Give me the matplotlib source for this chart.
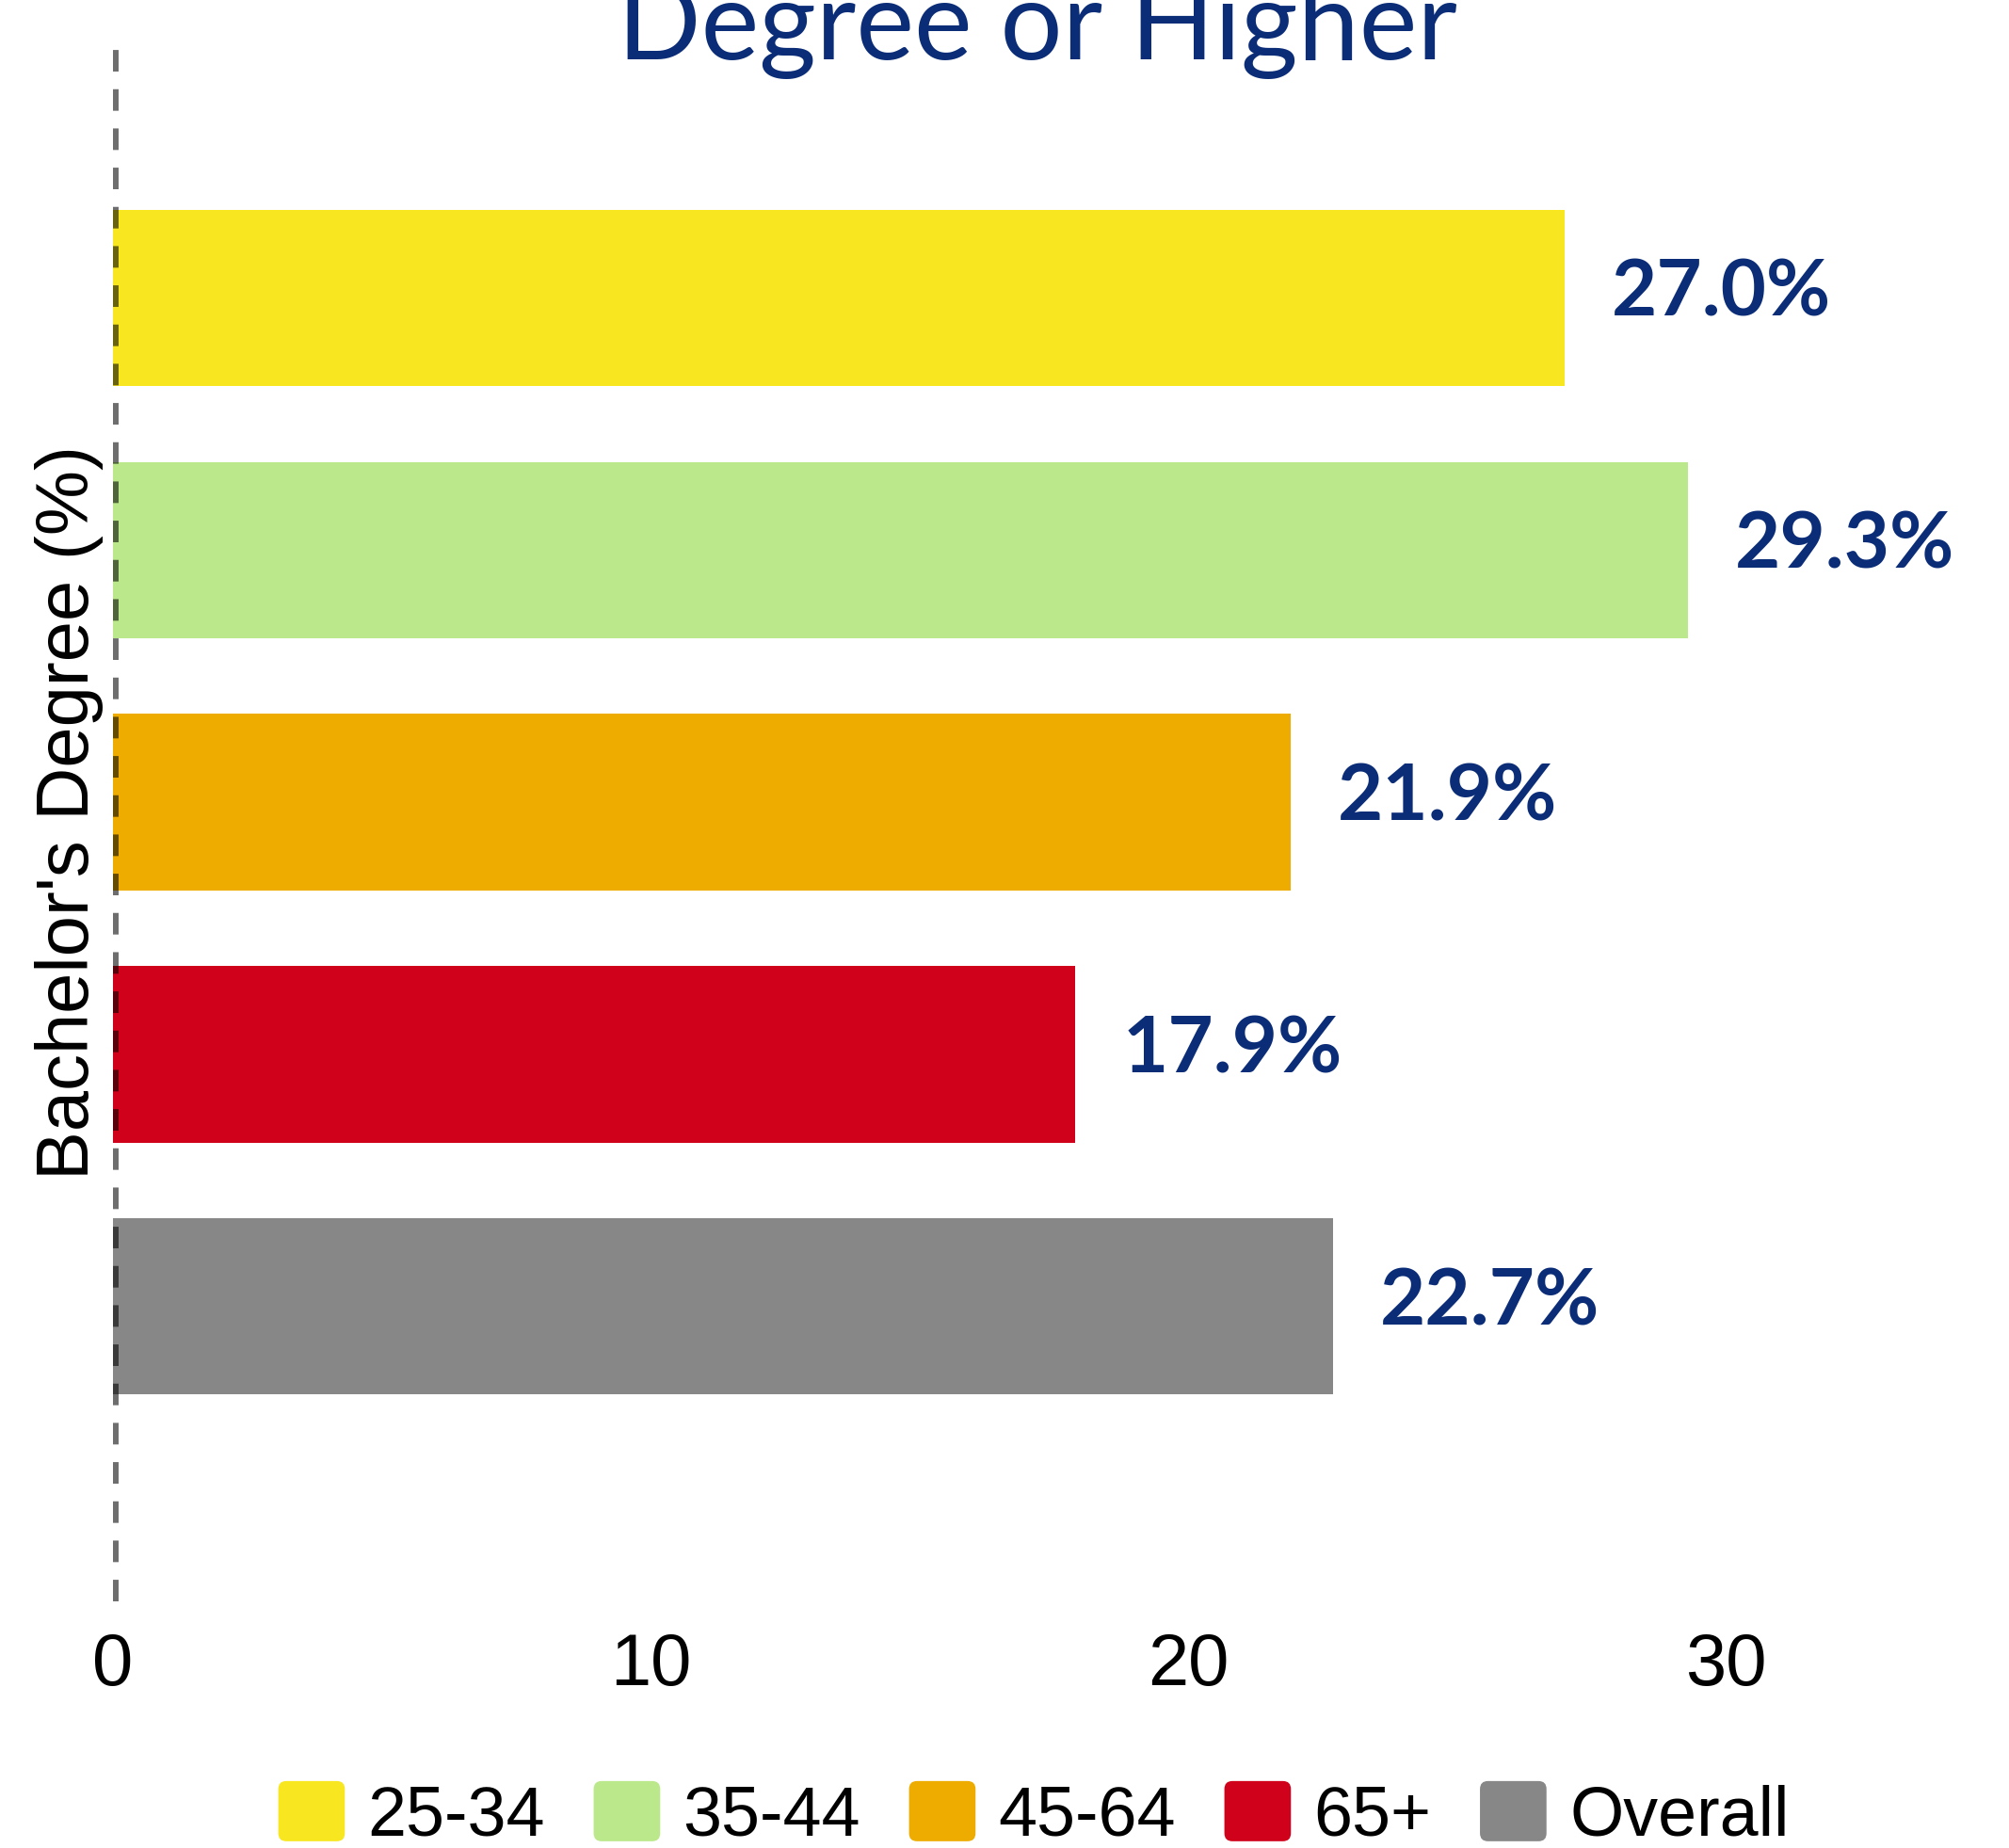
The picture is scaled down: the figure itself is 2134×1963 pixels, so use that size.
import matplotlib
matplotlib.use("Agg")
import matplotlib.pyplot as plt
from matplotlib.patches import Patch, FancyBboxPatch
from matplotlib.legend_handler import HandlerPatch

plt.rcParams['lines.scale_dashes'] = False

categories = ["25-34", "35-44", "45-64", "65+", "Overall"]
values = [27.0, 29.3, 21.9, 17.9, 22.7]
colors = ["#F7E620", "#BAE88A", "#EEAC00", "#D0021B", "#878787"]
xticks = [0, 10, 20, 30]
title_text = "Degree or Higher"
ylabel_text = "Bachelor's Degree (%)"
navy = "#0B2D78"

W, H = 2134, 1963
dpi = 100
fig = plt.figure(figsize=(W / dpi, H / dpi), dpi=dpi)

x0_px, x1_px = 120, 2073
top_px, bot_px = 38, 1701
ax = fig.add_axes([x0_px / W, 1 - bot_px / H, (x1_px - x0_px) / W, (bot_px - top_px) / H])

ypos = list(range(len(categories)))
ax.barh(ypos, values, height=0.7, color=colors, zorder=2)
ax.set_xlim(0, 34.2)
ax.set_ylim(5.17, -1.04)

for y, v in zip(ypos, values):
    ax.annotate(f"{v:.1f}%", xy=(v, y), xytext=(36, 3), textcoords="offset points",
                ha="left", va="center", fontsize=60, fontweight="bold",
                family="Lato", color=navy)

ax.axvline(0, color="black", alpha=0.57, lw=8.6, dashes=(16.5, 13.5), zorder=3, clip_on=True)

ax.set_xticks(xticks)
ax.set_xticklabels([str(t) for t in xticks], fontsize=56, family="Liberation Sans")
ax.tick_params(axis="x", length=0, pad=23)
ax.set_yticks([])
for s in ax.spines.values():
    s.set_visible(False)

fig.text(74 / W, 1 - 863 / H, ylabel_text, rotation=90, ha="center", va="center",
         fontsize=56, family="Liberation Sans", color="black")

fig.text(1102 / W, 1 - 63 / H, title_text, ha="center", va="baseline",
         fontsize=84, family="Lato", fontweight="normal", color=navy)


class RoundHandler(HandlerPatch):
    def create_artists(self, legend, orig_handle, xdescent, ydescent, width, height, fontsize, trans):
        p = FancyBboxPatch((-xdescent, -ydescent), width, height,
                           boxstyle=f"round,pad=0,rounding_size={0.12 * width}",
                           fc=orig_handle.get_facecolor(), ec="none", transform=trans)
        return [p]


handles = [Patch(facecolor=c, label=l) for c, l in zip(colors, categories)]
fig.legend(handles=handles, loc="center", bbox_to_anchor=(1098 / W, 1 - 1928 / H),
           ncol=5, frameon=False, prop={"family": "Liberation Sans", "size": 53},
           handlelength=0.96, handleheight=0.96, handletextpad=0.33, columnspacing=0.7,
           borderpad=0, borderaxespad=0,
           handler_map={Patch: RoundHandler()})

fig.savefig("out.png", dpi=dpi)
